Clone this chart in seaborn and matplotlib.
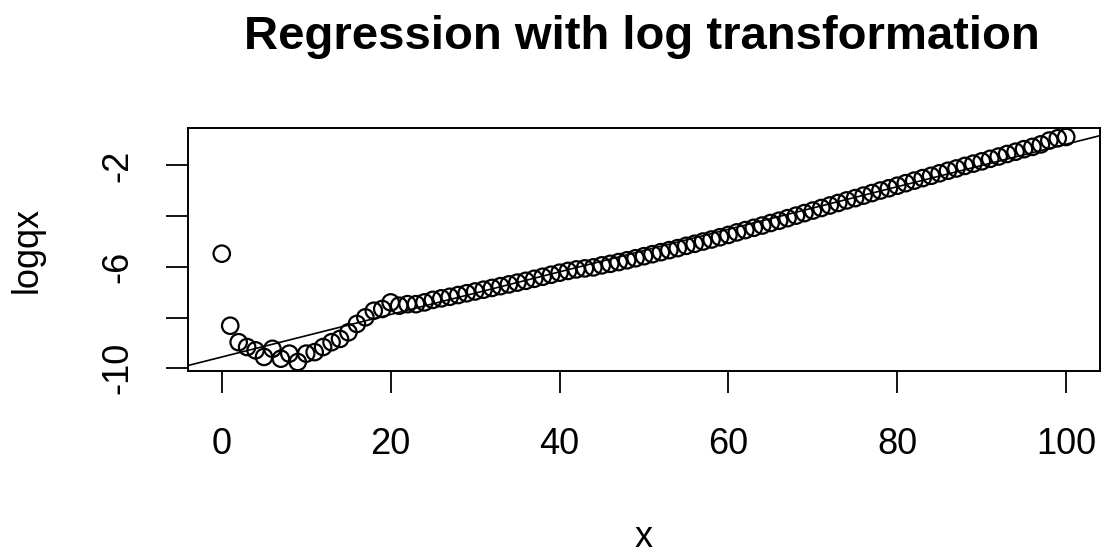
import numpy as np
import pandas as pd
import matplotlib
matplotlib.use("Agg")
import matplotlib.pyplot as plt
import seaborn as sns

x_vals = list(range(0, 101))
logqx_vals = [
    -5.48, -8.32, -8.97, -9.16, -9.29, -9.55, -9.23, -9.62, -9.42, -9.75,
    -9.42, -9.36, -9.16, -8.97, -8.84, -8.58, -8.25, -7.99, -7.73, -7.66,
    -7.40, -7.53, -7.47, -7.47, -7.40, -7.30, -7.24, -7.18, -7.11, -7.04,
    -6.97, -6.90, -6.83, -6.76, -6.69, -6.62, -6.55, -6.47, -6.39, -6.31,
    -6.23, -6.16, -6.10, -6.06, -6.02, -5.94, -5.88, -5.81, -5.74, -5.66,
    -5.58, -5.50, -5.42, -5.34, -5.26, -5.17, -5.09, -5.00, -4.92, -4.83,
    -4.74, -4.64, -4.55, -4.46, -4.37, -4.27, -4.18, -4.08, -3.98, -3.88,
    -3.78, -3.68, -3.58, -3.48, -3.38, -3.29, -3.19, -3.09, -2.99, -2.90,
    -2.80, -2.70, -2.60, -2.50, -2.41, -2.31, -2.21, -2.12, -2.02, -1.93,
    -1.84, -1.74, -1.65, -1.55, -1.46, -1.36, -1.27, -1.17, -1.02, -0.93,
    -0.88,
]
x_ticks = [0, 20, 40, 60, 80, 100]
y_ticks = [-10, -8, -6, -4, -2]
y_tick_labels = ["-10", "", "-6", "", "-2"]

df = pd.DataFrame({"x": x_vals, "logqx": logqx_vals})

sns.set_theme(style="white")
plt.rcParams["font.family"] = ["Liberation Sans", "DejaVu Sans"]

fig = plt.figure(figsize=(11.01, 5.55), dpi=100)
ax = fig.add_axes([188 / 1101, (555 - 371) / 555, (1100 - 188) / 1101, (371 - 128) / 555])

xmin, xmax = min(x_vals), max(x_vals)
ymin, ymax = min(logqx_vals), max(logqx_vals)
ax.set_xlim(xmin - 0.04 * (xmax - xmin), xmax + 0.04 * (xmax - xmin))
ax.set_ylim(ymin - 0.04 * (ymax - ymin), ymax + 0.04 * (ymax - ymin))

sns.regplot(data=df, x="x", y="logqx", ax=ax, ci=None, truncate=False,
            scatter_kws=dict(s=140, facecolors="none", edgecolors="black",
                             linewidths=1.6, alpha=1.0),
            line_kws=dict(color="black", linewidth=1.2))

ax.set_xlim(xmin - 0.04 * (xmax - xmin), xmax + 0.04 * (xmax - xmin))
ax.set_ylim(ymin - 0.04 * (ymax - ymin), ymax + 0.04 * (ymax - ymin))

ax.set_xticks(x_ticks)
ax.set_xticklabels([str(t) for t in x_ticks])
ax.set_yticks(y_ticks)
ax.set_yticklabels(y_tick_labels, rotation=90, va="center")
ax.tick_params(axis="both", direction="out", length=16, width=1.3, color="black",
               labelsize=26, labelcolor="black", bottom=True, left=True)
ax.tick_params(axis="x", pad=24)
ax.tick_params(axis="y", pad=22)
for s in ax.spines.values():
    s.set_color("black")
    s.set_linewidth(1.4)
    s.set_visible(True)

ax.set_xlabel("x", fontsize=26, color="black", labelpad=42)
ax.set_ylabel("logqx", fontsize=26, color="black", labelpad=40)
fig.text(642 / 1101, 1 - 37 / 555, "Regression with log transformation",
         ha="center", va="center", fontsize=34, fontweight="bold", color="black")

fig.savefig("out.png", dpi=100)
